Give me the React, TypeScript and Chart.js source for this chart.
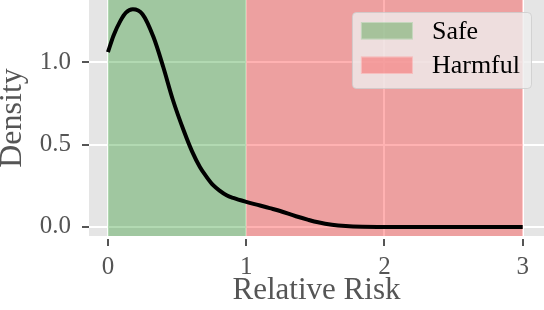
import React, { useEffect, useRef } from 'react';
import { Chart, registerables } from 'chart.js';

Chart.register(...registerables);

// ---- data ----
const riskX = [0, 0.04, 0.09, 0.13, 0.18, 0.25, 0.33, 0.40, 0.47, 0.55, 0.61, 0.665, 0.713, 0.761, 0.81, 0.858, 0.906, 1.0, 1.1, 1.17, 1.24, 1.36, 1.45, 1.52, 1.62, 1.72, 1.84, 2.0, 2.25, 2.5, 2.75, 3.0];
const densityY = [1.06, 1.16, 1.25, 1.30, 1.32, 1.29, 1.15, 0.97, 0.77, 0.58, 0.455, 0.364, 0.304, 0.253, 0.219, 0.192, 0.176, 0.152, 0.13, 0.114, 0.098, 0.065, 0.043, 0.028, 0.013, 0.005, 0.001, 0, 0, 0, 0, 0];

const xTickValues = [0, 1, 2, 3];
const yTickValues = [0, 0.5, 1.0];

const regionLabels = ['Safe', 'Harmful'];
const regionStart = [0, 1];
const regionEnd = [1, 3];
const regionColors = ['rgba(0,128,0,0.3)', 'rgba(255,0,0,0.3)'];

const FONT = '"Liberation Serif", "Times New Roman", serif';

const bgPlugin = {
  id: 'ggBackground',
  beforeDraw(chart: any) {
    const { ctx, chartArea } = chart;
    ctx.save();
    ctx.fillStyle = '#e5e5e5';
    ctx.fillRect(chartArea.left, chartArea.top, chartArea.right - chartArea.left, chartArea.bottom - chartArea.top);
    ctx.restore();
  },
};

const spanPlugin = {
  id: 'regionSpans',
  beforeDatasetsDraw(chart: any) {
    const { ctx, chartArea, scales } = chart;
    ctx.save();
    regionLabels.forEach((_, i) => {
      const x1 = scales.x.getPixelForValue(regionStart[i]);
      const x2 = scales.x.getPixelForValue(regionEnd[i]);
      ctx.fillStyle = regionColors[i];
      ctx.fillRect(x1, chartArea.top, x2 - x1, chartArea.bottom - chartArea.top);
    });
    ctx.restore();
  },
};

const legendPlugin = {
  id: 'regionLegend',
  afterDatasetsDraw(chart: any) {
    const { ctx, chartArea } = chart;
    ctx.save();
    ctx.font = `26px ${FONT}`;
    const textW = Math.max(...regionLabels.map((l) => ctx.measureText(l).width));
    const padL = 9, patchW = 52, gap = 19, padR = 11, padT = 10, rowH = 34.5, patchH = 17.5, padB = 14;
    const w = padL + patchW + gap + textW + padR;
    const h = padT + rowH * (regionLabels.length - 1) + patchH + padB;
    const x0 = chartArea.right - 13 - w;
    const y0 = chartArea.top + 12;
    ctx.beginPath();
    (ctx as any).roundRect(x0 + 0.5, y0 + 0.5, w, h, 4);
    ctx.fillStyle = 'rgba(238,238,238,0.8)';
    ctx.fill();
    ctx.strokeStyle = 'rgba(204,204,204,0.8)';
    ctx.lineWidth = 1;
    ctx.stroke();
    regionLabels.forEach((label, i) => {
      const py = y0 + padT + i * rowH;
      ctx.fillStyle = regionColors[i];
      ctx.fillRect(x0 + padL, py, patchW, patchH);
      ctx.strokeStyle = 'rgba(255,255,255,0.35)';
      ctx.strokeRect(x0 + padL + 0.5, py + 0.5, patchW - 1, patchH - 1);
      ctx.fillStyle = '#000';
      ctx.textBaseline = 'middle';
      ctx.textAlign = 'left';
      ctx.fillText(label, x0 + padL + patchW + gap, py + patchH / 2 + 1);
    });
    ctx.restore();
  },
};

export default function App() {
  const ref = useRef<HTMLCanvasElement | null>(null);

  useEffect(() => {
    if (!ref.current) return;
    const chart = new Chart(ref.current, {
      type: 'line',
      data: {
        datasets: [
          {
            label: 'Density',
            data: riskX.map((x, i) => ({ x, y: densityY[i] })),
            borderColor: '#000',
            borderWidth: 4,
            pointRadius: 0,
            fill: false,
            cubicInterpolationMode: 'monotone',
          },
        ],
      },
      options: {
        animation: false,
        responsive: false,
        devicePixelRatio: 1,
        layout: { padding: 0 },
        plugins: {
          legend: { display: false },
          tooltip: { enabled: false },
        },
        scales: {
          x: {
            type: 'linear',
            min: -0.137,
            max: 3.154,
            afterBuildTicks: (s: any) => {
              s.ticks = xTickValues.map((v) => ({ value: v }));
            },
            afterFit: (s: any) => {
              s.height = 74;
              s.paddingLeft = 0;
              s.paddingRight = 0;
            },
            border: { display: false },
            grid: {
              color: '#ffffff',
              lineWidth: 2,
              tickLength: 10,
              tickColor: '#555555',
              tickWidth: 2,
              tickBorderDash: [7, 3],
              tickBorderDashOffset: 7,
            },
            ticks: {
              callback: (v: any) => String(v),
              font: { family: FONT, size: 25 },
              color: '#555555',
              padding: 6,
              maxRotation: 0,
            },
            title: {
              display: true,
              text: 'Relative Risk',
              font: { family: FONT, size: 31 },
              color: '#555555',
              padding: { top: 0, bottom: 1 },
            },
          },
          y: {
            type: 'linear',
            min: -0.055,
            max: 1.3765,
            afterBuildTicks: (s: any) => {
              s.ticks = yTickValues.map((v) => ({ value: v }));
            },
            afterFit: (s: any) => {
              s.width = 89;
              s.paddingTop = 0;
              s.paddingBottom = 0;
            },
            border: { display: false },
            grid: {
              color: '#ffffff',
              lineWidth: 2,
              tickLength: 10,
              tickColor: '#555555',
              tickWidth: 2,
              tickBorderDash: [7, 3],
              tickBorderDashOffset: 7,
            },
            ticks: {
              callback: (v: any) => Number(v).toFixed(1),
              font: { family: FONT, size: 25 },
              color: '#555555',
              padding: 8,
            },
            title: {
              display: true,
              text: 'Density',
              font: { family: FONT, size: 32, lineHeight: 0.8 },
              color: '#555555',
              padding: 0,
            },
          },
        },
      },
      plugins: [bgPlugin, spanPlugin, legendPlugin],
    } as any);
    return () => chart.destroy();
  }, []);

  return (
    <div style={{ position: 'absolute', left: 0, top: 0, width: 544, height: 310 }}>
      <canvas ref={ref} width={544} height={310} style={{ width: 544, height: 310, display: 'block' }} />
    </div>
  );
}
